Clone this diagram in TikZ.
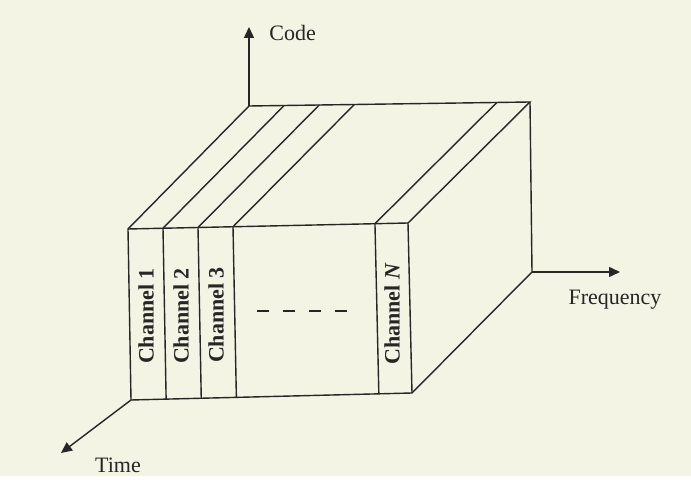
\documentclass[tikz,border=0pt]{standalone}
\usepackage{fontspec}
\setmainfont{Liberation Serif}
\usetikzlibrary{arrows.meta,calc}
\definecolor{paper}{RGB}{243,244,228}
\definecolor{ink}{RGB}{38,38,38}

\begin{document}
\begin{tikzpicture}[x=0.5pt, y=-0.5pt, line width=0.7pt, draw=ink, >={Triangle[length=5.5pt,width=5pt]},
    chan/.style={rotate=90, text=ink, font=\fontsize{11}{13}\selectfont\bfseries},
    axislabel/.style={text=ink, font=\fontsize{11}{13}\selectfont}] % one unit is one pixel of the figure
    % Paper background
    \fill[paper] (0,0) rectangle (691,476);

    % Corners of the block
    \coordinate (FTL) at (128,229);
    \coordinate (FTR) at (408,223);
    \coordinate (FBR) at (412,393);
    \coordinate (FBL) at (131,400);
    \coordinate (BTL) at (249,106);
    \coordinate (BTR) at (530,102);
    \coordinate (BBR) at (532,272);

    % Draw the block outline
    \draw (FBL) -- (FTL) -- (FTR) -- (FBR) -- cycle;
    \draw (FTL) -- (BTL) -- (BTR) -- (FTR);
    \draw (BTR) -- (BBR) -- (FBR);

    % Add the channel slices
    \foreach \t in {0.125,0.25,0.375,0.882}
        \draw ($(FBL)!\t!(FBR)$) -- ($(FTL)!\t!(FTR)$) -- ($(BTL)!\t!(BTR)$);

    % Add the channel labels
    \node[chan] (ch1) at (146,316) {Channel 1};
    \node[chan] (ch2) at (181,316) {Channel 2};
    \node[chan] (ch3) at (216,315) {Channel 3};
    \node[chan] (chN) at (392,314) {Channel \textit{N}};

    % Dashes for the channels in between
    \coordinate (dotsL) at (257,311);
    \coordinate (dotsR) at (347,311);
    \draw[line width=0.9pt, dash pattern=on 5.8pt off 7.2pt] (dotsL) -- (dotsR);

    % Add the three axes
    \coordinate (codetip) at (249,27);
    \coordinate (freqtip) at (620,272);
    \coordinate (timetip) at (61,453);
    \draw[->] (BTL) -- (codetip);
    \draw[->] (BBR) -- (freqtip);
    \draw[->] (FBL) -- (timetip);
    \node[axislabel, anchor=west] (code) at (262,33) {Code};
    \node[axislabel] (freq) at (615,300) {Frequency};
    \node[axislabel] (time) at (118,465) {Time};
\end{tikzpicture}
\end{document}
